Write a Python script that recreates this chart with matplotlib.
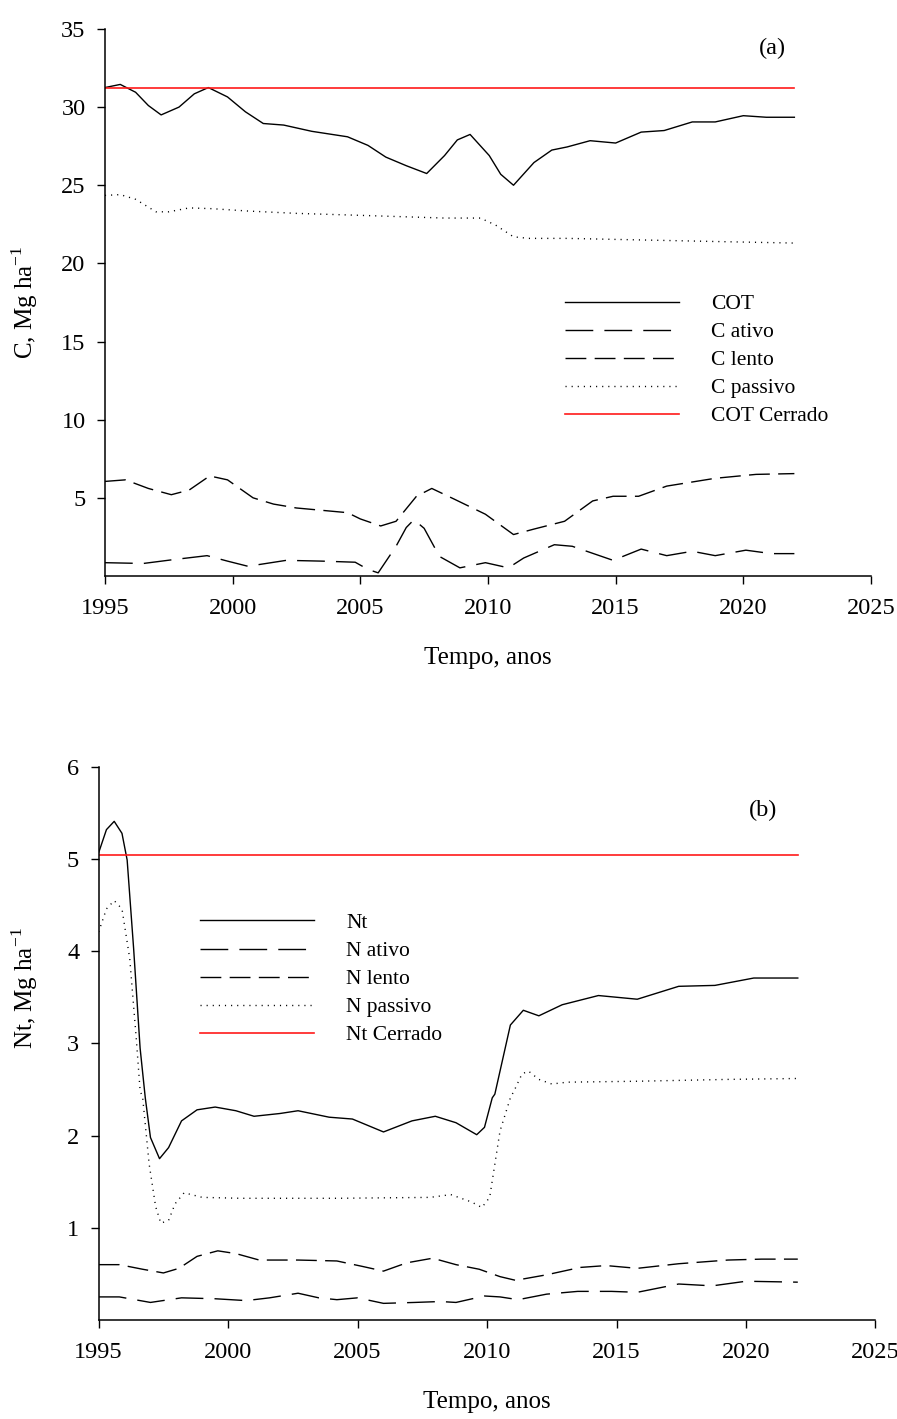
import matplotlib
matplotlib.use('Agg')
import matplotlib.pyplot as plt

# --- (a) carbon pools, Mg ha-1 ---
cot_year = [1995.0, 1995.6, 1996.2, 1996.7, 1997.2, 1997.9, 1998.5, 1999.05, 1999.8, 2000.5,
            2001.2, 2002.0, 2003.1, 2004.5, 2005.3, 2006.0, 2006.8, 2007.6, 2008.3, 2008.8,
            2009.3, 2010.05, 2010.5, 2011.0, 2011.8, 2012.5, 2013.1, 2014.0, 2015.0, 2016.0,
            2016.9, 2018.0, 2018.9, 2020.0, 2020.9, 2022.0]
cot = [31.25, 31.45, 30.95, 30.1, 29.5, 30.0, 30.85, 31.25, 30.65, 29.7,
       28.95, 28.85, 28.45, 28.1, 27.55, 26.8, 26.25, 25.75, 26.9, 27.9,
       28.25, 26.9, 25.7, 25.0, 26.45, 27.25, 27.45, 27.85, 27.7, 28.4,
       28.5, 29.05, 29.05, 29.45, 29.35, 29.35]

cpas_year = [1995.0, 1995.6, 1996.2, 1997.0, 1997.5, 1998.3, 1999.2, 2000.6, 2002.5, 2004.5,
             2006.4, 2008.3, 2009.7, 2010.3, 2011.0, 2011.6, 2013.1, 2016.0, 2018.9, 2022.0]
cpas = [24.35, 24.4, 24.1, 23.3, 23.3, 23.55, 23.5, 23.35, 23.2, 23.1,
        23.0, 22.9, 22.9, 22.45, 21.7, 21.6, 21.6, 21.5, 21.4, 21.3]

clen_year = [1995.0, 1995.8, 1996.7, 1997.6, 1998.3, 1999.1, 1999.8, 2000.8, 2001.6, 2002.5,
             2003.5, 2004.5, 2005.0, 2005.8, 2006.4, 2007.2, 2007.8, 2008.7, 2009.9, 2011.0,
             2011.8, 2013.0, 2014.1, 2014.9, 2015.9, 2017.0, 2018.9, 2020.5, 2022.0]
clen = [6.05, 6.15, 5.6, 5.2, 5.5, 6.4, 6.15, 5.0, 4.6, 4.35,
        4.2, 4.05, 3.65, 3.2, 3.5, 5.1, 5.6, 4.9, 3.95, 2.65,
        3.0, 3.5, 4.8, 5.1, 5.1, 5.75, 6.25, 6.5, 6.55]

catv_year = [1995.0, 1996.5, 1997.7, 1999.0, 1999.8, 2000.6, 2002.1, 2003.5, 2004.8, 2005.3,
             2005.7, 2006.4, 2006.8, 2007.1, 2007.5, 2008.1, 2008.9, 2009.9, 2010.8, 2011.4,
             2012.6, 2013.3, 2014.9, 2016.0, 2017.0, 2018.0, 2018.9, 2020.1, 2021.1, 2022.0]
catv = [0.85, 0.8, 1.05, 1.3, 0.95, 0.62, 1.0, 0.95, 0.88, 0.42,
        0.2, 1.9, 3.1, 3.6, 3.05, 1.25, 0.52, 0.85, 0.52, 1.15,
        2.0, 1.9, 1.0, 1.72, 1.3, 1.58, 1.3, 1.65, 1.43, 1.43]

cot_cerrado = 31.2

# --- (b) nitrogen pools, Mg ha-1 ---
nt_year = [1995.0, 1995.3, 1995.6, 1995.9, 1996.1, 1996.35, 1996.6, 1996.8, 1997.0, 1997.35,
           1997.7, 1998.2, 1998.8, 1999.5, 2000.3, 2001.0, 2002.0, 2002.7, 2003.9, 2004.8,
           2006.0, 2007.1, 2008.0, 2008.8, 2009.6, 2009.9, 2010.2, 2010.3, 2010.9, 2011.4,
           2012.0, 2012.9, 2014.3, 2015.8, 2017.4, 2018.8, 2020.3, 2022.0]
nt = [5.07, 5.32, 5.41, 5.28, 4.99, 4.03, 2.95, 2.41, 1.98, 1.75,
      1.87, 2.16, 2.28, 2.31, 2.27, 2.21, 2.24, 2.27, 2.2, 2.18,
      2.04, 2.16, 2.21, 2.14, 2.01, 2.09, 2.41, 2.45, 3.2, 3.36,
      3.3, 3.42, 3.52, 3.48, 3.62, 3.63, 3.71, 3.71]

npas_year = [1995.0, 1995.3, 1995.6, 1995.9, 1996.2, 1996.45, 1996.6, 1996.7, 1996.95, 1997.2,
             1997.4, 1997.7, 1997.95, 1998.3, 1999.0, 2000.5, 2004.2, 2007.8, 2008.6, 2009.4,
             2009.8, 2010.1, 2010.5, 2010.9, 2011.05, 2011.35, 2011.6, 2012.0, 2012.5, 2013.1,
             2015.8, 2019.3, 2022.0]
npas = [4.21, 4.46, 4.55, 4.46, 3.92, 3.06, 2.49, 2.41, 1.69, 1.23,
        1.05, 1.08, 1.26, 1.38, 1.33, 1.32, 1.32, 1.33, 1.36, 1.28,
        1.22, 1.33, 2.05, 2.41, 2.49, 2.67, 2.7, 2.61, 2.56, 2.58,
        2.59, 2.61, 2.62]

nlen_year = [1995.0, 1995.8, 1996.7, 1997.5, 1998.1, 1998.8, 1999.6, 2000.3, 2001.2, 2002.7,
             2004.2, 2005.2, 2006.0, 2006.9, 2007.9, 2008.8, 2009.7, 2010.5, 2011.1, 2012.3,
             2013.6, 2014.6, 2015.8, 2017.4, 2019.3, 2020.6, 2022.0]
nlen = [0.6, 0.6, 0.55, 0.51, 0.56, 0.69, 0.75, 0.72, 0.65, 0.65,
        0.64, 0.58, 0.53, 0.62, 0.67, 0.6, 0.55, 0.47, 0.43, 0.49,
        0.57, 0.59, 0.56, 0.61, 0.65, 0.66, 0.66]

natv_year = [1995.0, 1995.8, 1997.0, 1998.2, 1999.5, 2000.7, 2001.6, 2002.7, 2003.5, 2004.2,
             2005.0, 2006.0, 2007.2, 2008.2, 2008.8, 2009.9, 2010.5, 2011.2, 2012.3, 2013.5,
             2014.8, 2015.8, 2017.4, 2018.7, 2020.0, 2022.0]
natv = [0.25, 0.25, 0.19, 0.24, 0.23, 0.21, 0.24, 0.29, 0.24, 0.22,
        0.24, 0.18, 0.19, 0.2, 0.19, 0.26, 0.25, 0.22, 0.28, 0.31,
        0.31, 0.3, 0.39, 0.37, 0.42, 0.41]

nt_cerrado = 5.05

plt.rcParams['font.family'] = ['Liberation Serif', 'DejaVu Serif']
plt.rcParams['lines.scale_dashes'] = False
plt.rcParams['mathtext.fontset'] = 'custom'
plt.rcParams['mathtext.rm'] = 'Liberation Serif'

LW = 1.0
ATIVO_DASH = (20, 8)
LENTO_DASH = (15, 6)
DOT = (0.8, 3.6)
years_span = [1995, 2022]

fig = plt.figure(figsize=(8.97, 14.19), dpi=100)
ax_a = fig.add_axes([0.117, 0.5941, 0.854, 0.3855])
ax_b = fig.add_axes([0.110, 0.0698, 0.866, 0.3897])


def style_axis(ax):
    for side in ('top', 'right'):
        ax.spines[side].set_visible(False)
    for side in ('left', 'bottom'):
        ax.spines[side].set_linewidth(1.1)
    ax.tick_params(direction='out', length=6, width=1.0, labelsize=17.5)
    ax.tick_params(axis='x', pad=10)
    ax.tick_params(axis='y', pad=8)
    ax.set_xlim(1995, 2025)
    ax.set_xticks([1995, 2000, 2005, 2010, 2015, 2020, 2025])
    ax.set_xlabel('Tempo, anos', fontsize=18, labelpad=20)


legend_opts = dict(loc='upper left', frameon=False, fontsize=15.5,
                   handlelength=5.3, handletextpad=1.5, labelspacing=0.37,
                   borderpad=0, borderaxespad=0)

# panel (a)
ax_a.plot(cot_year, cot, color='black', lw=LW, label='COT')
ax_a.plot(catv_year, catv, color='black', lw=LW, dashes=ATIVO_DASH, label='C ativo')
ax_a.plot(clen_year, clen, color='black', lw=LW, dashes=LENTO_DASH, label='C lento')
ax_a.plot(cpas_year, cpas, color='black', lw=LW, dashes=DOT, label='C passivo')
ax_a.plot(years_span, [cot_cerrado] * 2, color='#ff1a1a', lw=1.2, label='COT Cerrado')
ax_a.set_ylim(0, 35)
ax_a.set_yticks([5, 10, 15, 20, 25, 30, 35])
style_axis(ax_a)
ax_a.set_ylabel('C, Mg ha$^{-1}$', fontsize=18)
ax_a.yaxis.set_label_coords(-0.085, 0.5)
ax_a.text(0.872, 0.965, '(a)', transform=ax_a.transAxes, fontsize=17.5,
          ha='center', va='center')
ax_a.legend(bbox_to_anchor=(0.6, 0.515), **legend_opts)

# panel (b)
ax_b.plot(nt_year, nt, color='black', lw=LW, label='Nt')
ax_b.plot(natv_year, natv, color='black', lw=LW, dashes=ATIVO_DASH, label='N ativo')
ax_b.plot(nlen_year, nlen, color='black', lw=LW, dashes=LENTO_DASH, label='N lento')
ax_b.plot(npas_year, npas, color='black', lw=LW, dashes=DOT, label='N passivo')
ax_b.plot(years_span, [nt_cerrado] * 2, color='#ff1a1a', lw=1.2, label='Nt Cerrado')
ax_b.set_ylim(0, 6)
ax_b.set_yticks([1, 2, 3, 4, 5, 6])
style_axis(ax_b)
ax_b.set_ylabel('Nt, Mg ha$^{-1}$', fontsize=18)
ax_b.yaxis.set_label_coords(-0.075, 0.6)
ax_b.text(0.855, 0.922, '(b)', transform=ax_b.transAxes, fontsize=17.5,
          ha='center', va='center')
ax_b.legend(bbox_to_anchor=(0.13, 0.736), **legend_opts)

fig.savefig('out.png', dpi=100)
